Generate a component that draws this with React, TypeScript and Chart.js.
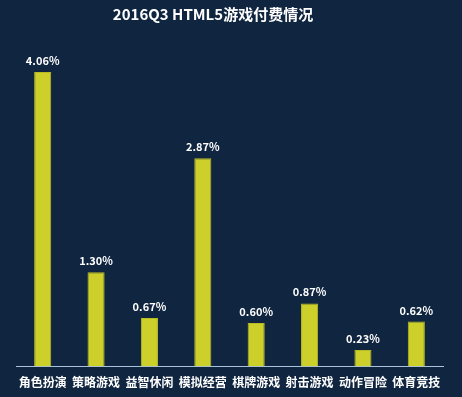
import React, { useEffect, useRef } from "react";
import { Chart, registerables } from "chart.js";

Chart.register(...registerables);

const TITLE = "2016Q3 HTML5游戏付费情况";
const categories = ["角色扮演", "策略游戏", "益智休闲", "模拟经营", "棋牌游戏", "射击游戏", "动作冒险", "体育竞技"];
const values = [4.06, 1.3, 0.67, 2.87, 0.6, 0.87, 0.23, 0.62];
const valueLabels = ["4.06%", "1.30%", "0.67%", "2.87%", "0.60%", "0.87%", "0.23%", "0.62%"];

const BG = "#102540";
const BAR = "#cdd02a";
const FONT = "'Noto Sans CJK SC', 'Noto Sans', sans-serif";

export default function App() {
  const ref = useRef<HTMLCanvasElement | null>(null);
  useEffect(() => {
    document.body.style.margin = "0";
    document.body.style.background = BG;
    const canvas = ref.current;
    if (!canvas) return;
    const labelPlugin = {
      id: "labels",
      beforeDraw(chart: any) {
        const ctx = chart.ctx;
        ctx.save();
        ctx.fillStyle = BG;
        ctx.fillRect(0, 0, chart.width, chart.height);
        ctx.restore();
      },
      afterDatasetsDraw(chart: any) {
        const ctx = chart.ctx;
        const meta = chart.getDatasetMeta(0);
        ctx.save();
        ctx.fillStyle = "#ffffff";
        ctx.font = `bold 11px ${FONT}`;
        ctx.textAlign = "center";
        ctx.textBaseline = "alphabetic";
        meta.data.forEach((el: any, i: number) => {
          ctx.fillText(valueLabels[i], el.x, el.y - 7);
        });
        ctx.font = `bold 15px ${FONT}`;
        ctx.fillText(TITLE, 213, 20);
        ctx.restore();
      },
    };
    const chart = new Chart(canvas, {
      type: "bar",
      data: {
        labels: categories,
        datasets: [
          {
            data: values,
            backgroundColor: BAR,
            borderColor: "#b9bb22",
            borderWidth: 1,
            categoryPercentage: 0.8,
            barPercentage: 0.4,
          },
        ],
      },
      options: {
        responsive: false,
        animation: false,
        layout: { padding: { top: 40, left: 16, right: 19, bottom: -2 } },
        plugins: { legend: { display: false }, tooltip: { enabled: false }, title: { display: false } },
        scales: {
          x: {
            grid: { display: false, drawTicks: false, tickLength: 0 },
            border: { display: true, color: "#a9c3dc", width: 1 },
            ticks: { color: "#ffffff", font: { family: FONT, size: 12, weight: "bold", lineHeight: 1.2 }, padding: 9, maxRotation: 0 },
          },
          y: { display: false, min: 0, max: 4.5 },
        },
      },
      plugins: [labelPlugin],
    });
    return () => chart.destroy();
  }, []);
  return (
    <div style={{ width: 462, height: 397, background: BG }}>
      <canvas ref={ref} width={462} height={397} style={{ display: "block" }} />
    </div>
  );
}
